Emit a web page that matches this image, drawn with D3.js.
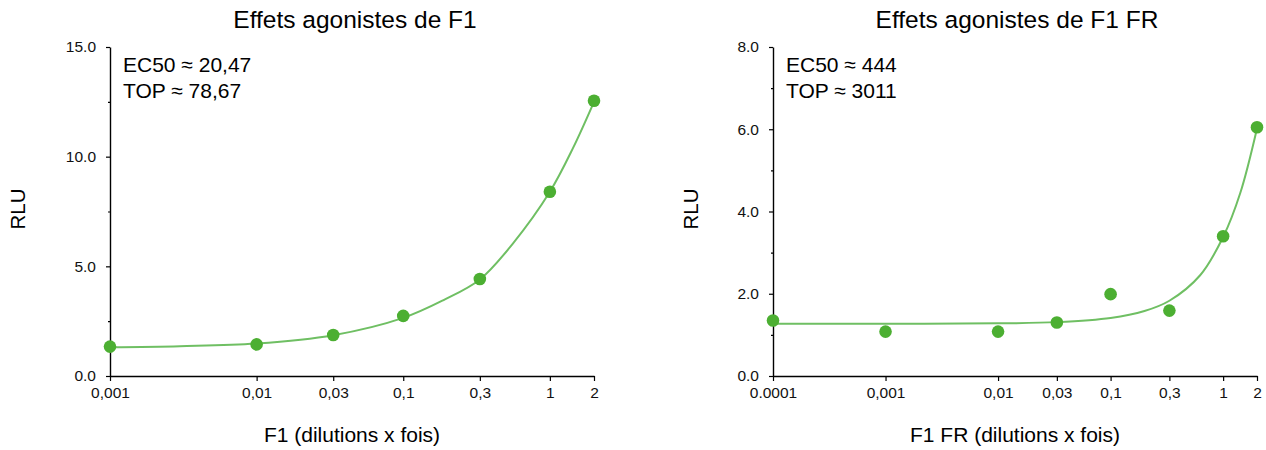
<!DOCTYPE html>
<html>
<head>
<meta charset="utf-8">
<script src="https://cdn.jsdelivr.net/npm/d3@7"></script>
<style>
  html, body { margin: 0; padding: 0; background: #fff; }
  svg { display: block; font-family: "Liberation Sans", Arial, sans-serif; }
</style>
</head>
<body>
<svg id="chart" width="1266" height="450"></svg>
<script>
// ---- Data ----
// Left panel: F1
const leftTitle = "Effets agonistes de F1";
const leftXLabel = "F1 (dilutions x fois)";
const leftAnnot = ["EC50 \u2248 20,47", "TOP \u2248 78,67"];
const leftX = [0.001, 0.01, 0.0333, 0.1, 0.333, 1, 2];
const leftY = [1.34, 1.44, 1.87, 2.74, 4.42, 8.40, 12.55];
const leftCurveX = [0.001, 0.003, 0.01, 0.0333, 0.1, 0.187, 0.333, 0.561, 1, 1.44, 2];
const leftCurveY = [1.31, 1.36, 1.48, 1.86, 2.65, 3.45, 4.40, 6.05, 8.4, 10.4, 12.5];
const leftXTicks = [0.001, 0.01, 0.0333, 0.1, 0.333, 1, 2];
const leftXTickLabels = ["0,001", "0,01", "0,03", "0,1", "0,3", "1", "2"];
const leftYMax = 15;
const leftYMajor = [0, 5, 10, 15];
const leftYMinor = [2.5, 7.5, 12.5];

// Right panel: F1 FR
const rightTitle = "Effets agonistes de F1 FR";
const rightXLabel = "F1 FR (dilutions x fois)";
const rightAnnot = ["EC50 \u2248 444", "TOP \u2248 3011"];
const rightX = [0.0001, 0.001, 0.01, 0.0333, 0.1, 0.333, 1, 2];
const rightY = [1.35, 1.08, 1.08, 1.30, 1.99, 1.59, 3.40, 6.05];
const rightCurveX = [0.0001, 0.001, 0.01, 0.0333, 0.1, 0.2, 0.333, 0.625, 1, 1.42, 2];
const rightCurveY = [1.27, 1.27, 1.28, 1.31, 1.41, 1.58, 1.83, 2.45, 3.38, 4.45, 6.02];
const rightXTicks = [0.0001, 0.001, 0.01, 0.0333, 0.1, 0.333, 1, 2];
const rightXTickLabels = ["0.0001", "0,001", "0,01", "0,03", "0,1", "0,3", "1", "2"];
const rightYMax = 8;
const rightYMajor = [0, 2, 4, 6, 8];
const rightYMinor = [1, 3, 5, 7];

const yLabel = "RLU";

// ---- Styles ----
const pointColor = "#4caf32";
const lineColor = "#6fbf63";
const svg = d3.select("#chart");

function panel(cfg) {
  const g = svg.append("g");
  const x = d3.scaleLog().domain(cfg.xDomain).range([cfg.left, cfg.right]);
  const y = d3.scaleLinear().domain([0, cfg.yMax]).range([cfg.bottom, cfg.top]);

  // X axis
  const xAxis = d3.axisBottom(x)
    .tickValues(cfg.xTicks)
    .tickFormat((d, i) => cfg.xTickLabels[i])
    .tickSize(5).tickSizeOuter(0).tickPadding(6);
  const gx = g.append("g").attr("transform", `translate(0,${cfg.bottom})`).call(xAxis);
  gx.select(".domain").attr("stroke", "#000").attr("stroke-width", 1.4)
    .attr("d", `M${cfg.left},0.5H${x(cfg.xDomain[1]) + 0.5}`);
  gx.selectAll(".tick line").attr("stroke", "#000").attr("stroke-width", 1.2);
  gx.selectAll(".tick text").attr("fill", "#111").style("font-size", "15.5px")
    .style("font-family", "'Liberation Sans', Arial, sans-serif");

  // Y axis major
  const yAxis = d3.axisLeft(y)
    .tickValues(cfg.yMajor)
    .tickFormat(d3.format(".1f"))
    .tickSize(4).tickSizeOuter(0).tickPadding(10);
  const gy = g.append("g").attr("transform", `translate(${cfg.left},0)`).call(yAxis);
  gy.select(".domain").attr("stroke", "#000").attr("stroke-width", 1.4);
  gy.selectAll(".tick line").attr("stroke", "#000").attr("stroke-width", 1.2);
  gy.selectAll(".tick text").attr("fill", "#111").style("font-size", "15.5px")
    .style("font-family", "'Liberation Sans', Arial, sans-serif");
  // Y axis minor
  const yMinorAxis = d3.axisLeft(y).tickValues(cfg.yMinor).tickFormat("").tickSize(2).tickSizeOuter(0);
  const gym = g.append("g").attr("transform", `translate(${cfg.left},0)`).call(yMinorAxis);
  gym.select(".domain").remove();
  gym.selectAll(".tick line").attr("stroke", "#000").attr("stroke-width", 1.2);

  // Fitted curve
  const line = d3.line()
    .x(d => x(d[0])).y(d => y(d[1]))
    .curve(d3.curveCatmullRom.alpha(0.5));
  g.append("path")
    .datum(d3.zip(cfg.curveX, cfg.curveY))
    .attr("d", line)
    .attr("fill", "none")
    .attr("stroke", lineColor)
    .attr("stroke-width", 2);

  // Points
  g.selectAll("circle.pt")
    .data(d3.zip(cfg.px, cfg.py))
    .join("circle")
    .attr("class", "pt")
    .attr("cx", d => x(d[0]))
    .attr("cy", d => y(d[1]))
    .attr("r", 6.3)
    .attr("fill", pointColor);

  // Title
  g.append("text")
    .attr("x", cfg.titleX).attr("y", 28)
    .attr("text-anchor", "middle")
    .style("font-size", "24.5px").attr("fill", "#000")
    .text(cfg.title);

  // X label
  g.append("text")
    .attr("x", (cfg.left + cfg.right) / 2).attr("y", 442)
    .attr("text-anchor", "middle")
    .style("font-size", "21px").attr("fill", "#000")
    .text(cfg.xLabel);

  // Y label
  g.append("text")
    .attr("transform", `translate(${cfg.yLabelX},209) rotate(-90)`)
    .attr("text-anchor", "middle")
    .style("font-size", "20.5px").attr("fill", "#000")
    .text(yLabel);

  // Annotation
  cfg.annot.forEach((t, i) => {
    g.append("text")
      .attr("x", cfg.left + 13).attr("y", 72 + i * 26)
      .style("font-size", "21px").attr("fill", "#000")
      .text(t);
  });
}

panel({
  left: 110, right: 594, top: 47, bottom: 376,
  xDomain: [0.001, 2], yMax: leftYMax,
  xTicks: leftXTicks, xTickLabels: leftXTickLabels,
  yMajor: leftYMajor, yMinor: leftYMinor,
  curveX: leftCurveX, curveY: leftCurveY,
  px: leftX, py: leftY,
  title: leftTitle, titleX: 355, xLabel: leftXLabel, yLabelX: 25, annot: leftAnnot
});

panel({
  left: 773, right: 1257, top: 47, bottom: 376,
  xDomain: [0.0001, 2], yMax: rightYMax,
  xTicks: rightXTicks, xTickLabels: rightXTickLabels,
  yMajor: rightYMajor, yMinor: rightYMinor,
  curveX: rightCurveX, curveY: rightCurveY,
  px: rightX, py: rightY,
  title: rightTitle, titleX: 1017, xLabel: rightXLabel, yLabelX: 698, annot: rightAnnot
});
</script>
</body>
</html>
